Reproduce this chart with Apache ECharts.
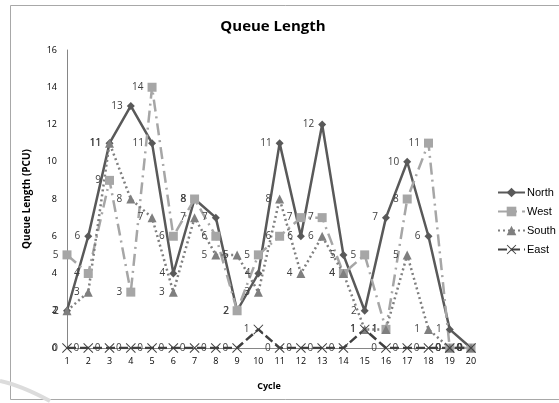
<!DOCTYPE html>
<html><head><meta charset="utf-8">
<script src="https://cdn.jsdelivr.net/npm/echarts@6/dist/echarts.min.js"></script>
<style>html,body{margin:0;padding:0;background:#fff}#c{width:559px;height:403px}</style>
</head><body><div id="c"></div>
<script>
var cycles = ['1','2','3','4','5','6','7','8','9','10','11','12','13','14','15','16','17','18','19','20'];
var north = [2,6,11,13,11,4,8,7,2,4,11,6,12,5,2,7,10,6,1,0];
var west  = [5,4,9,3,14,6,8,6,2,5,6,7,7,4,5,1,8,11,0,0];
var south = [2,3,11,8,7,3,7,5,5,3,8,4,6,4,1,1,5,1,0,0];
var east  = [0,0,0,0,0,0,0,0,0,1,0,0,0,0,1,0,0,0,0,0];
var yTicks = {min:0, max:16, interval:2};

var FONT = 'Open Sans';
var xMark = 'path://M0,0.7L0.7,0L5,4.3L9.3,0L10,0.7L5.7,5L10,9.3L9.3,10L5,5.7L0.7,10L0,9.3L4.3,5Z';
var lbl = {show:true, position:'left', distance:4, color:'#404040', fontSize:10, fontFamily:FONT};
function mk(name, data, color, width, type, symbol, size){
  return {name:name, type:'line', data:data, symbol:symbol, symbolSize:size,
    lineStyle:{color:color, width:width, type:type},
    itemStyle:{color:color},
    label:lbl, labelLayout:{hideOverlap:false}, z: 2};
}
var chart = echarts.init(document.getElementById('c'));
chart.setOption({
  animation:false,
  title:{text:'Queue Length', left:268, textAlign:'center', top:14,
    textStyle:{fontFamily:FONT, fontSize:15, fontWeight:'bold', color:'#000'}},
  legend:{orient:'vertical', left:492, top:182, itemGap:8, itemWidth:27, itemHeight:12,
    textStyle:{fontFamily:'Liberation Sans', fontSize:11, color:'#000', padding:[0,0,0,-3]},
    data:['North','West','South','East']},
  grid:{left:67, right:88, top:50, bottom:55},
  xAxis:{type:'category', data:cycles, boundaryGap:false, name:'Cycle', nameLocation:'middle', nameGap:34,
    nameTextStyle:{fontFamily:FONT, fontSize:9, fontWeight:'bold', color:'#000'},
    axisLine:{lineStyle:{color:'#868686'}}, axisTick:{show:false},
    axisLabel:{fontFamily:FONT, fontSize:9, color:'#000', margin:9}},
  yAxis:{type:'value', min:yTicks.min, max:yTicks.max, interval:yTicks.interval,
    name:'Queue Length (PCU)', nameLocation:'middle', nameGap:35, nameRotate:90,
    nameTextStyle:{fontFamily:FONT, fontSize:10, fontWeight:'bold', color:'#000'},
    axisLine:{show:true, lineStyle:{color:'#868686'}}, axisTick:{show:false}, splitLine:{show:false},
    axisLabel:{fontFamily:FONT, fontSize:9, color:'#000', margin:10}},
  graphic:[
    {type:'rect', shape:{x:10.5, y:5.5, width:600, height:394}, style:{fill:'none', stroke:'#a8a8a8', lineWidth:1}, silent:true},
    {type:'bezierCurve', shape:{x1:0, y1:381, x2:50, y2:401, cpx1:20, cpy1:385}, style:{fill:'none', stroke:'#dcdcdc', lineWidth:4}, silent:true}
  ],
  series:[
    mk('North', north, '#595959', 2.5, 'solid', 'diamond', 8),
    mk('West', west, '#a6a6a6', 2.5, [12,5,2,5], 'rect', 9),
    mk('South', south, '#7f7f7f', 2.5, [2,3], 'triangle', 9),
    mk('East', east, '#404040', 2.5, [9,4], xMark, 10)
  ]
});
</script></body></html>
